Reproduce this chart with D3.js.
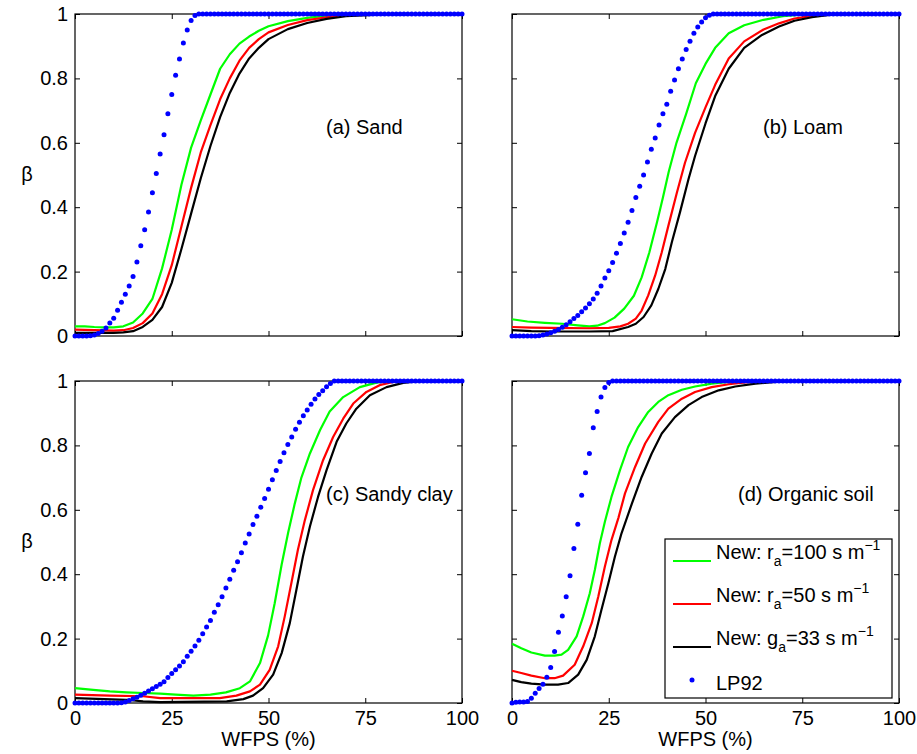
<!DOCTYPE html>
<html>
<head>
<meta charset="utf-8">
<script src="https://cdn.jsdelivr.net/npm/d3@7"></script>
<style>
  body { margin: 0; background: #fff; }
  text { font-family: Arial, "Liberation Sans", Helvetica, sans-serif; }
</style>
</head>
<body>
<div id="chart"></div>
<script>

var wfps = [0,1,2,3,4,5,6,7,8,9,10,11,12,13,14,15,16,17,18,19,20,21,22,23,24,25,26,27,28,29,30,
  31,32,33,34,35,36,37,38,39,40,41,42,43,44,45,46,47,48,49,50,51,52,53,54,55,56,57,58,59,60,
  61,62,63,64,65,66,67,68,69,70,71,72,73,74,75,76,77,78,79,80,81,82,83,84,85,86,87,88,89,90,
  91,92,93,94,95,96,97,98,99,100];

var xTicks = [0, 25, 50, 75, 100];
var xTickLabels = ["0", "25", "50", "75", "100"];
var yTicks = [0, 0.2, 0.4, 0.6, 0.8, 1];
var yTickLabels = ["0", "0.2", "0.4", "0.6", "0.8", "1"];

var panelLabels = ["(a) Sand", "(b) Loam", "(c) Sandy clay", "(d) Organic soil"];

// LP92, one value per WFPS step
var lpSand = [0,0,0,0,0.001,0.003,0.008,0.015,0.025,0.04,0.055,0.08,0.105,0.13,0.155,0.185,
  0.23,0.28,0.33,0.385,0.445,0.505,0.565,0.625,0.69,0.75,0.81,0.86,0.91,0.95,0.98,0.995,
  1,1,1,1,1,1,1,1,1,1, 1,1,1,1,1,1,1,1,1,1, 1,1,1,1,1,1,1,1,1,1,
  1,1,1,1,1,1,1,1,1,1, 1,1,1,1,1,1,1,1,1,1, 1,1,1,1,1,1,1,1,1,1, 1,1,1,1,1,1,1,1,1];
var lpLoam = [0,0,0,0,0,0,0,0.001,0.003,0.006,0.01,0.015,0.02,0.027,0.035,0.044,0.054,0.064,
  0.075,0.087,0.1,0.115,0.133,0.155,0.18,0.203,0.228,0.257,0.287,0.32,0.353,0.39,0.43,0.465,
  0.5,0.54,0.58,0.615,0.655,0.69,0.72,0.76,0.795,0.83,0.86,0.89,0.915,0.94,0.96,0.975,0.988,0.996,
  1,1,1,1,1,1,1,1,1,1, 1,1,1,1,1,1,1,1,1,1, 1,1,1,1,1,1,1,1,1,1,
  1,1,1,1,1,1,1,1,1,1, 1,1,1,1,1,1,1,1,1];
var lpClay = [0,0,0,0,0,0,0,0,0,0,0,0,0.001,0.003,0.008,0.013,0.018,0.024,0.03,0.037,0.044,
  0.051,0.058,0.066,0.079,0.092,0.103,0.115,0.128,0.145,0.161,0.177,0.195,0.215,0.236,0.256,
  0.282,0.305,0.33,0.357,0.384,0.412,0.439,0.467,0.497,0.525,0.554,0.58,0.608,0.635,0.664,
  0.693,0.722,0.75,0.777,0.803,0.826,0.85,0.872,0.892,0.91,0.928,0.944,0.958,0.97,0.982,0.992,
  1,1,1,1,1,1,1,1,1,1, 1,1,1,1,1,1,1,1,1,1, 1,1,1,1,1,1,1,1,1,1, 1,1,1,1];
var lpOrganic = [0,0.002,0.003,0.003,0.005,0.015,0.03,0.045,0.058,0.08,0.11,0.16,0.22,0.27,
  0.33,0.395,0.48,0.555,0.645,0.715,0.775,0.855,0.905,0.95,0.98,0.995,
  1,1,1,1,1,1,1,1,1,1, 1,1,1,1,1,1,1,1,1,1, 1,1,1,1,1,1,1,1,1,1,
  1,1,1,1,1,1,1,1,1,1, 1,1,1,1,1,1,1,1,1,1, 1,1,1,1,1,1,1,1,1,1,
  1,1,1,1,1,1,1,1,1,1, 1,1,1,1,1];

// New model, [WFPS, beta]
var sandR100 = [[0,0.03],[2.5,0.03],[5,0.028],[7.5,0.027],[10,0.027],[12.5,0.03],[15,0.042],
  [17.5,0.07],[20,0.115],[22.5,0.21],[25,0.33],[27.5,0.47],[30,0.585],[32.5,0.67],[35,0.75],
  [37.5,0.83],[40,0.875],[42.5,0.908],[45,0.93],[47.5,0.948],[50,0.962],[55,0.978],[60,0.988],
  [65,0.995],[70,0.999],[75,1],[100,1]];
var sandR50 = [[0,0.02],[5,0.018],[10,0.017],[12.5,0.018],[15,0.025],[17.5,0.04],[20,0.07],
  [22.5,0.13],[25,0.22],[27.5,0.34],[30,0.46],[32.5,0.57],[35,0.655],[37.5,0.735],[40,0.8],
  [42.5,0.855],[45,0.895],[47.5,0.922],[50,0.943],[55,0.966],[60,0.981],[65,0.99],[70,0.996],
  [80,1],[100,1]];
var sandG33 = [[0,0.01],[5,0.01],[10,0.01],[12.5,0.011],[15,0.015],[17.5,0.028],[20,0.05],
  [22.5,0.09],[25,0.165],[27.5,0.27],[30,0.38],[32.5,0.49],[35,0.59],[37.5,0.68],[40,0.755],
  [42.5,0.815],[45,0.862],[47.5,0.895],[50,0.922],[55,0.953],[60,0.972],[65,0.985],[70,0.993],
  [80,0.999],[85,1],[100,1]];

var loamR100 = [[0,0.052],[4,0.045],[8.5,0.041],[13,0.038],[17,0.033],[20,0.03],[22,0.032],
  [24,0.04],[26.5,0.057],[29,0.085],[31.5,0.125],[33.5,0.182],[35.5,0.26],[37.5,0.355],[39,0.43],
  [40.5,0.51],[42.5,0.6],[45,0.69],[47.5,0.785],[50,0.845],[52.5,0.895],[56,0.94],[60,0.965],
  [65,0.982],[70,0.993],[75,0.998],[80,1],[100,1]];
var loamR50 = [[0,0.028],[5,0.026],[10,0.025],[20,0.024],[25,0.025],[28,0.03],[30,0.038],
  [32,0.054],[33.5,0.079],[35.2,0.126],[37,0.188],[38.7,0.26],[40.4,0.342],[42.6,0.445],
  [44.7,0.538],[47.3,0.631],[50,0.71],[52.5,0.78],[56,0.862],[60,0.915],[65,0.952],[69,0.971],
  [73,0.986],[78,0.995],[85,1],[100,1]];
var loamG33 = [[0,0.018],[5,0.015],[10,0.014],[20,0.014],[26,0.015],[30,0.028],[32,0.038],
  [34,0.059],[36,0.095],[37.8,0.146],[39.6,0.208],[41.3,0.291],[43.4,0.384],[45.6,0.487],
  [47.3,0.559],[50,0.66],[52.5,0.745],[56,0.83],[60,0.895],[64.6,0.935],[69,0.961],[73,0.979],
  [77.5,0.99],[82,0.997],[88,1],[100,1]];

var clayR100 = [[0,0.046],[4.7,0.041],[9,0.036],[13.3,0.033],[17.6,0.031],[22,0.029],[26,0.026],
  [30.6,0.023],[35,0.026],[39,0.033],[42.6,0.046],[45.2,0.067],[47.8,0.124],[49.9,0.21],
  [51.6,0.31],[53.4,0.43],[55.1,0.53],[56.8,0.62],[58.5,0.7],[60.7,0.775],[63.3,0.847],
  [65.8,0.905],[69.3,0.95],[73.6,0.981],[77.9,0.995],[81,1],[100,1]];
var clayR50 = [[0,0.026],[9,0.023],[17.6,0.021],[22,0.015],[30.6,0.015],[37.4,0.015],[41.7,0.023],
  [45.2,0.036],[47.8,0.057],[50.3,0.103],[52.5,0.176],[54.2,0.269],[55.9,0.372],[57.6,0.476],
  [59.4,0.568],[61.5,0.661],[64.1,0.754],[66.7,0.826],[69.3,0.883],[71.9,0.93],[75.3,0.966],
  [78.7,0.987],[82.2,0.997],[86,1],[100,1]];
var clayG33 = [[0,0.015],[13.3,0.01],[17.6,0.005],[22,0.003],[39.2,0.005],[43.5,0.012],[46,0.023],
  [48.6,0.046],[51.2,0.088],[53.4,0.155],[55.5,0.248],[57.2,0.351],[58.9,0.455],[60.7,0.548],
  [62.8,0.64],[65,0.723],[67.6,0.811],[70.1,0.868],[72.7,0.914],[76.2,0.956],[80.5,0.981],
  [84.8,0.994],[88.2,0.999],[92,1],[100,1]];

var organicR100 = [[0,0.184],[2.4,0.17],[5,0.157],[8.5,0.147],[11,0.147],[12.8,0.15],[14.5,0.165],
  [16.7,0.207],[18.4,0.269],[20.1,0.341],[21.4,0.413],[22.7,0.496],[24,0.563],[25.7,0.64],
  [27.9,0.723],[30,0.795],[32.6,0.857],[35.2,0.904],[37.8,0.935],[40.4,0.956],[43.9,0.973],
  [47.3,0.983],[51.6,0.992],[56,0.997],[62,1],[100,1]];
var organicR50 = [[0,0.1],[2.4,0.093],[5,0.085],[8.5,0.077],[11,0.077],[13.2,0.085],[16.2,0.119],
  [18.4,0.176],[20.6,0.248],[22.3,0.331],[24,0.424],[25.7,0.506],[27.5,0.575],[29.2,0.651],
  [31.8,0.733],[34.4,0.806],[37.8,0.873],[40.4,0.914],[43.9,0.945],[47.3,0.966],[51.6,0.981],
  [56,0.99],[60.3,0.996],[66,1],[100,1]];
var organicG33 = [[0,0.072],[2.4,0.065],[5,0.06],[8.5,0.057],[11.9,0.057],[14.5,0.062],[17.1,0.088],
  [19.3,0.134],[21.4,0.207],[23.1,0.289],[24.9,0.372],[26.6,0.455],[28.3,0.527],[31,0.62],
  [33.5,0.702],[36.1,0.775],[38.7,0.837],[42.1,0.888],[45.6,0.925],[49,0.95],[53.4,0.971],
  [57.7,0.983],[62.9,0.992],[68.9,0.998],[75,1],[100,1]];

var seriesColors = ["#00ff00", "#ff0000", "#000000"];
var lpColor = "#0000ff";

var panels = [
  { label: panelLabels[0], lp: lpSand, lines: [sandR100, sandR50, sandG33], left: 75, top: 14, yAxis: true, xAxis: false, labelX: 251 },
  { label: panelLabels[1], lp: lpLoam, lines: [loamR100, loamR50, loamG33], left: 512, top: 14, yAxis: false, xAxis: false, labelX: 251 },
  { label: panelLabels[2], lp: lpClay, lines: [clayR100, clayR50, clayG33], left: 75, top: 381, yAxis: true, xAxis: true, labelX: 251 },
  { label: panelLabels[3], lp: lpOrganic, lines: [organicR100, organicR50, organicG33], left: 512, top: 381, yAxis: false, xAxis: true, labelX: 226, legend: true }
];

var W = 917, H = 754;
var pw = 387, ph = 322;

var svg = d3.select("#chart").append("svg")
  .attr("width", W)
  .attr("height", H);

var x = d3.scaleLinear().domain([0, 100]).range([0, pw]);
var y = d3.scaleLinear().domain([0, 1]).range([ph, 0]);

var line = d3.line()
  .x(function(d) { return x(d[0]); })
  .y(function(d) { return y(d[1]); });

panels.forEach(function(p) {
  var g = svg.append("g").attr("transform", "translate(" + [p.left, p.top] + ")");

  // ticks pointing inwards on all four sides
  g.append("g").attr("transform", "translate(0," + ph + ")")
    .call(d3.axisBottom(x).tickValues(xTicks).tickSize(-5).tickPadding(8)
      .tickFormat(function(d, i) { return p.xAxis ? xTickLabels[i] : ""; }));
  g.append("g")
    .call(d3.axisTop(x).tickValues(xTicks).tickSize(-5).tickFormat(""));
  g.append("g")
    .call(d3.axisLeft(y).tickValues(yTicks).tickSize(-5).tickPadding(7)
      .tickFormat(function(d, i) { return p.yAxis ? yTickLabels[i] : ""; }));
  g.append("g").attr("transform", "translate(" + pw + ",0)")
    .call(d3.axisRight(y).tickValues(yTicks).tickSize(-5).tickFormat(""));

  g.selectAll(".domain").remove();
  g.selectAll(".tick line").attr("stroke", "#000");
  g.selectAll(".tick text")
    .attr("fill", "#000")
    .style("font-size", "20px")
    .style("font-family", "Arial, 'Liberation Sans', sans-serif");

  g.append("rect")
    .attr("x", 0)
    .attr("y", 0)
    .attr("width", pw)
    .attr("height", ph)
    .attr("fill", "none")
    .attr("stroke", "#000")
    .attr("stroke-width", 1.2);

  p.lines.forEach(function(s, i) {
    g.append("path")
      .datum(s)
      .attr("d", line)
      .attr("fill", "none")
      .attr("stroke", seriesColors[i])
      .attr("stroke-width", 2.2)
      .attr("stroke-linejoin", "round");
  });

  // LP92 dots over the curves
  g.append("g").selectAll("circle")
    .data(p.lp)
    .join("circle")
    .attr("cx", function(d, i) { return x(wfps[i]); })
    .attr("cy", function(d) { return y(d); })
    .attr("r", 2.5)
    .attr("fill", lpColor);

  g.append("text")
    .attr("x", p.labelX)
    .attr("y", 120)
    .attr("fill", "#000")
    .style("font-size", "20px")
    .text(p.label);

  if (p.legend) {
    var lg = g.append("g").attr("transform", "translate(" + [153, 158] + ")");
    lg.append("rect")
      .attr("width", 227)
      .attr("height", 159)
      .attr("fill", "#fff")
      .attr("stroke", "#000")
      .attr("stroke-width", 1.2);

    var entries = [
      { pre: "New: r", sub: "a", post: "=100 s m", sup: "\u22121" },
      { pre: "New: r", sub: "a", post: "=50 s m", sup: "\u22121" },
      { pre: "New: g", sub: "a", post: "=33 s m", sup: "\u22121" }
    ];
    entries.forEach(function(e, i) {
      var ly = 22 + i * 43;
      lg.append("line")
        .attr("x1", 8).attr("x2", 46)
        .attr("y1", ly).attr("y2", ly)
        .attr("stroke", seriesColors[i])
        .attr("stroke-width", 2.2);
      var t = lg.append("text")
        .attr("x", 51)
        .attr("y", ly - 2)
        .attr("fill", "#000")
        .style("font-size", "20px");
      t.append("tspan").text(e.pre);
      t.append("tspan").attr("dy", 7).style("font-size", "14px").text(e.sub);
      t.append("tspan").attr("dy", -7).text(e.post);
      t.append("tspan").attr("dy", -9).style("font-size", "14px").text(e.sup);
    });
    lg.append("circle")
      .attr("cx", 27)
      .attr("cy", 141)
      .attr("r", 2.5)
      .attr("fill", lpColor);
    lg.append("text")
      .attr("x", 51)
      .attr("y", 151)
      .attr("fill", "#000")
      .style("font-size", "20px")
      .text("LP92");
  }

  if (p.xAxis) {
    g.append("text")
      .attr("x", pw / 2)
      .attr("y", ph + 43)
      .attr("text-anchor", "middle")
      .attr("fill", "#000")
      .style("font-size", "20px")
      .text("WFPS (%)");
  }
  if (p.yAxis) {
    g.append("text")
      .attr("x", -48)
      .attr("y", ph / 2 + 6)
      .attr("text-anchor", "middle")
      .attr("fill", "#000")
      .style("font-size", "20px")
      .text("\u03b2");
  }
});

</script>
</body>
</html>
